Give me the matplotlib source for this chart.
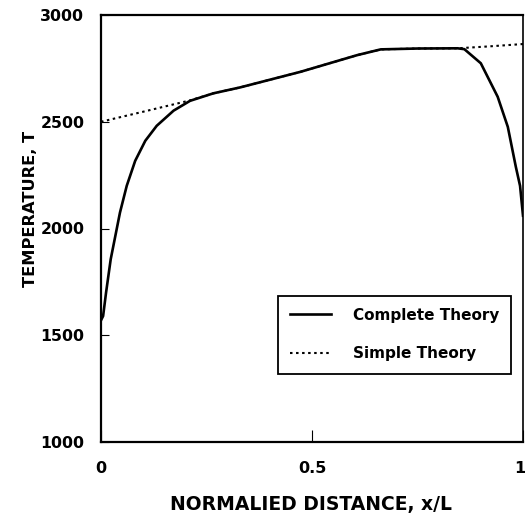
import matplotlib
matplotlib.use("Agg")
import matplotlib.pyplot as plt
from matplotlib.transforms import ScaledTranslation

plt.rcParams['font.family'] = ['DejaVu Sans']

# Complete theory
x_complete = [0.0, 0.005, 0.012, 0.023, 0.045, 0.061, 0.081, 0.105, 0.132, 0.172, 0.211,
              0.266, 0.33, 0.473, 0.607, 0.663, 0.75, 0.845, 0.861, 0.900, 0.940, 0.964,
              0.983, 0.993, 1.0]
t_complete = [1570, 1590, 1700, 1856, 2075, 2200, 2317, 2411, 2481, 2552, 2598,
              2633, 2661, 2734, 2812, 2839, 2843, 2844, 2840, 2774, 2617, 2476,
              2289, 2200, 2060]

# Simple theory
x_simple = [0.0, 0.1, 0.211, 0.266, 0.33, 0.473, 0.607, 0.663, 0.75, 0.845, 0.92, 1.0]
t_simple = [2500, 2547, 2600, 2633, 2661, 2734, 2812, 2839, 2843, 2844, 2853, 2864]

x_ticks = [0, 0.5, 1]
x_ticklabels = ["0", "0.5", "1"]
y_ticks = [1000, 1500, 2000, 2500, 3000]
y_ticklabels = ["1000", "1500", "2000", "2500", "3000"]

fig = plt.figure(figsize=(5.27, 5.15), dpi=100)
ax = fig.add_axes([101/527, 1-442/515, 422/527, 427/515])

ax.plot(x_complete, t_complete, color='black', lw=1.9, label='Complete Theory',
        solid_joinstyle='round')
ax.plot(x_simple, t_simple, color='black', lw=1.5, linestyle=(0, (1.2, 1.7)),
        label='Simple Theory')

ax.set_xlim(0, 1)
ax.set_ylim(1000, 3000)
ax.set_xticks(x_ticks)
ax.set_xticklabels(x_ticklabels)
ax.set_yticks(y_ticks)
ax.set_yticklabels(y_ticklabels)
ax.tick_params(axis='y', direction='in', length=6, width=0.8, pad=12, labelsize=11.3)
ax.tick_params(axis='x', direction='in', length=9, width=0.8, pad=14, labelsize=11.5)
for lab in ax.get_xticklabels() + ax.get_yticklabels():
    lab.set_fontweight('bold')
# keep the last x tick label inside the canvas
last = ax.get_xticklabels()[-1]
last.set_transform(last.get_transform() + ScaledTranslation(-3/100, 0, fig.dpi_scale_trans))

for side in ['left', 'top', 'bottom']:
    ax.spines[side].set_linewidth(1.6)
ax.spines['right'].set_linewidth(1.2)

ax.set_xlabel("NORMALIED DISTANCE, x/L", fontsize=13.5, fontweight='bold')
ax.set_ylabel("TEMPERATURE, T", fontsize=11.7, fontweight='bold')
ax.xaxis.set_label_coords((311-101)/422, -(495-442)/427)
ax.yaxis.set_label_coords(-(101-38)/422, (442-209)/427)

leg = ax.legend(loc='upper left', bbox_to_anchor=(0.419, 0.343), fancybox=False,
                edgecolor='black', framealpha=1, handlelength=2.7, handletextpad=1.4,
                borderpad=0.8, labelspacing=1.55, prop={'weight': 'bold', 'size': 11},
                borderaxespad=0)
leg.get_frame().set_linewidth(1.3)

fig.savefig("out.png", dpi=100)
